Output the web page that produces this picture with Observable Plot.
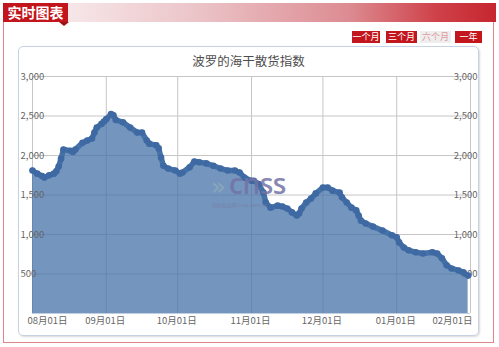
<!DOCTYPE html>
<html><head><meta charset="utf-8">
<script src="https://cdn.jsdelivr.net/npm/d3@7"></script>
<script src="https://cdn.jsdelivr.net/npm/@observablehq/plot@0.6"></script>
<style>
body{margin:0;background:#fff;font-family:"Noto Sans CJK SC","Noto Sans",sans-serif;}
#wrap{position:relative;width:499px;height:347px;overflow:hidden;background:#fff;}
.abs{position:absolute;}
.btn{position:absolute;top:31px;height:12px;line-height:12px;font-size:9px;text-align:center;color:#fff;background:#c3161d;}
</style></head>
<body>
<div id="wrap">
  <div class="abs" style="left:3px;top:21px;width:489px;height:321px;border:1px solid #de858a;border-top:none;"></div>
  <div class="abs" style="left:3px;top:3px;width:493px;height:19px;background:linear-gradient(to right,#f7e8ea 12%,#ebc3c7 40%,#dc8c92 70%,#cf4149 88%,#c6262f 100%);"></div>
  <div class="abs" style="left:3px;top:3px;width:65px;height:19px;background:#c2151c;color:#fff;font-weight:bold;font-size:14px;line-height:19px;text-align:center;">实时图表</div>
  <div class="abs" style="left:59px;top:22px;width:0;height:0;border-left:5px solid transparent;border-right:5px solid transparent;border-top:4px solid #9c1016;"></div>
  <div class="abs" style="left:18px;top:46px;width:459px;height:288px;border:1px solid #c6d2e2;border-radius:5px;box-shadow:1px 1px 2px rgba(0,0,0,0.15);"></div>
  <div class="abs" style="left:18px;top:52px;width:461px;text-align:center;font-size:12.5px;line-height:17px;color:#4d4d4d;">波罗的海干散货指数</div>
  <div class="btn" style="left:352px;width:28px;">一个月</div>
  <div class="btn" style="left:386px;width:31px;">三个月</div>
  <div class="btn" style="left:420px;width:31px;background:#eeeeee;color:#e3979c;">六个月</div>
  <div class="btn" style="left:455px;width:27px;">一年</div>
  <div id="chart" class="abs" style="left:0;top:0;"></div>
  <div class="abs" style="left:211px;top:174px;font-size:24px;line-height:26px;color:rgba(150,175,185,0.7);font-family:'DejaVu Sans';">»</div>
  <div class="abs" style="left:229px;top:166px;font-size:28px;line-height:34px;color:rgba(115,115,165,0.85);font-family:'Open Sans';font-weight:600;letter-spacing:-0.5px;">cnss</div>
  <div class="abs" style="left:212px;top:202px;font-size:5px;line-height:6px;color:rgba(120,120,160,0.7);">国际航运网 cnss.com.cn</div>
</div>
<script>
const dates = ["2013-08-01","2013-08-03","2013-08-05","2013-08-06","2013-08-08","2013-08-10","2013-08-11","2013-08-12","2013-08-13","2013-08-14","2013-08-17","2013-08-18","2013-08-19","2013-08-22","2013-08-24","2013-08-26","2013-08-27","2013-08-28","2013-08-30","2013-08-31",
"2013-09-01","2013-09-03","2013-09-04","2013-09-05","2013-09-08","2013-09-11","2013-09-14","2013-09-16","2013-09-18","2013-09-19","2013-09-22","2013-09-23","2013-09-24","2013-09-25","2013-09-27","2013-09-30",
"2013-10-02","2013-10-03","2013-10-06","2013-10-08","2013-10-10","2013-10-13","2013-10-16","2013-10-19","2013-10-22","2013-10-25","2013-10-27","2013-10-29",
"2013-11-01","2013-11-02","2013-11-04","2013-11-06","2013-11-07","2013-11-09","2013-11-12","2013-11-14","2013-11-16","2013-11-18","2013-11-20","2013-11-21","2013-11-22","2013-11-24","2013-11-26","2013-11-28",
"2013-12-01","2013-12-03","2013-12-05","2013-12-08","2013-12-09","2013-12-11","2013-12-13","2013-12-15","2013-12-16","2013-12-17","2013-12-19","2013-12-22","2013-12-26","2013-12-30",
"2014-01-01","2014-01-02","2014-01-04","2014-01-06","2014-01-09","2014-01-12","2014-01-16","2014-01-18","2014-01-20","2014-01-22","2014-01-24","2014-01-27","2014-01-29","2014-01-31"];
const values = [1810,1770,1740,1720,1750,1770,1800,1860,1960,2075,2060,2045,2075,2160,2190,2215,2290,2355,2400,2430,
2460,2525,2510,2450,2420,2355,2290,2290,2190,2150,2130,2090,1975,1870,1835,1810,
1770,1785,1850,1925,1915,1900,1870,1835,1810,1810,1785,1720,
1680,1680,1640,1530,1405,1340,1365,1355,1330,1280,1240,1265,1330,1405,1455,1520,
1595,1595,1555,1530,1470,1405,1340,1305,1240,1175,1140,1100,1050,990,
965,900,835,800,775,760,775,760,700,610,570,545,520,480];
const xTickDates = ["2013-08-01","2013-09-01","2013-10-01","2013-11-01","2013-12-01","2014-01-01","2014-02-01"];
const yTicks = [500,1000,1500,2000,2500,3000];
const yDomain = [0,3000];

const parse = s => new Date(s + "T00:00:00Z");
const data = dates.map((d,i) => ({date: parse(d), value: values[i]}));
const xTicks = xTickDates.map(parse);
const fmtX = d3.utcFormat("%m月%d日");
const fmtY = d3.format(",");
const lab = {fill:"#666", fontSize: 9.5, fontFamily:"'Noto Sans CJK SC','Noto Sans',sans-serif"};
const blue = "#4572A7";

const chart = Plot.plot({
  width: 499, height: 347,
  marginLeft: 32, marginRight: 29, marginTop: 76, marginBottom: 34,
  x: {type: "utc", domain: [xTicks[0], xTicks[xTicks.length-1]], axis: null},
  y: {domain: yDomain, axis: null},
  style: {background: "transparent", overflow: "visible"},
  marks: [
    Plot.ruleY(yTicks, {stroke: "#c6c6c6", strokeWidth: 1}),
    Plot.ruleX(xTicks, {stroke: "#c6c6c6", strokeWidth: 1}),
    Plot.areaY(data, {x: "date", y: "value", fill: blue, fillOpacity: 0.75}),
    Plot.ruleY([0], {stroke: "#C0D0E0"}),
    Plot.text(yTicks, {y: d => d, text: d => fmtY(d), frameAnchor: "left", textAnchor: "start", dx: -12, ...lab}),
    Plot.text(yTicks, {y: d => d, text: d => fmtY(d), frameAnchor: "right", textAnchor: "end", dx: 7, ...lab}),
    Plot.line(data, {x: "date", y: "value", stroke: blue, strokeWidth: 5.5, strokeLinejoin: "round", strokeLinecap: "round"}),
    Plot.dot(data, {x: "date", y: "value", r: 3.3, fill: "#3e69a3"}),
    Plot.text(xTicks.slice(1, -1), {x: d => d, text: d => fmtX(d), frameAnchor: "bottom", dy: 7, lineAnchor: "middle", dx: -1, ...lab}),
    Plot.text(xTicks.slice(0, 1), {x: d => d, text: d => fmtX(d), frameAnchor: "bottom", dy: 7, lineAnchor: "middle", textAnchor: "start", dx: -5, ...lab}),
    Plot.text(xTicks.slice(-1), {x: d => d, text: d => fmtX(d), frameAnchor: "bottom", dy: 7, lineAnchor: "middle", textAnchor: "end", dx: 2, ...lab})
  ]
});
document.getElementById("chart").appendChild(chart);
</script>
</body></html>
